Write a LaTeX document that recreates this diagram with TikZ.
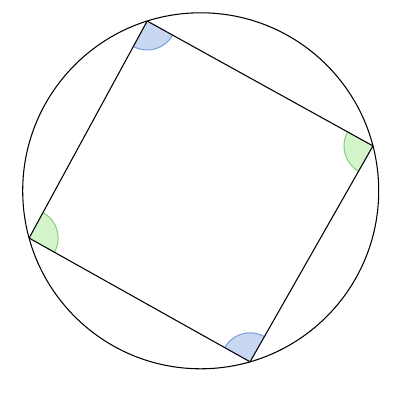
\documentclass[tikz,border=0pt]{standalone}
\usepackage{xcolor}
\usepackage{tikz}
\usetikzlibrary{angles,calc}
\definecolor{angb}{RGB}{201,216,242}
\definecolor{angbd}{RGB}{127,159,221}
\definecolor{angg}{RGB}{212,245,204}
\definecolor{anggd}{RGB}{136,208,128}
\tikzset{
	edge/.style = { line width=0.6pt, line join=round },
	bang/.style = { fill=angb, draw=angbd, line width=0.6pt, angle radius=5.8mm },
	gang/.style = { fill=angg, draw=anggd, line width=0.6pt, angle radius=5.8mm },
}
\begin{document}
\begin{tikzpicture}
\useasboundingbox (0,0) rectangle (8,8);
\coordinate (ctr) at (4.014,4.184);
\coordinate (A) at ($(ctr)+(107.5:3.56)$);
\coordinate (B) at ($(ctr)+(14.6:3.56)$);
\coordinate (C) at ($(ctr)+(286.1:3.56)$);
\coordinate (D) at ($(ctr)+(195.4:3.56)$);

\pic [bang] {angle = D--A--B};
\pic [gang] {angle = A--B--C};
\pic [bang] {angle = B--C--D};
\pic [gang] {angle = C--D--A};

\draw[edge] (ctr) circle (3.56);
\draw[edge] (A) -- (B) -- (C) -- (D) -- cycle;
\end{tikzpicture}
\end{document}
